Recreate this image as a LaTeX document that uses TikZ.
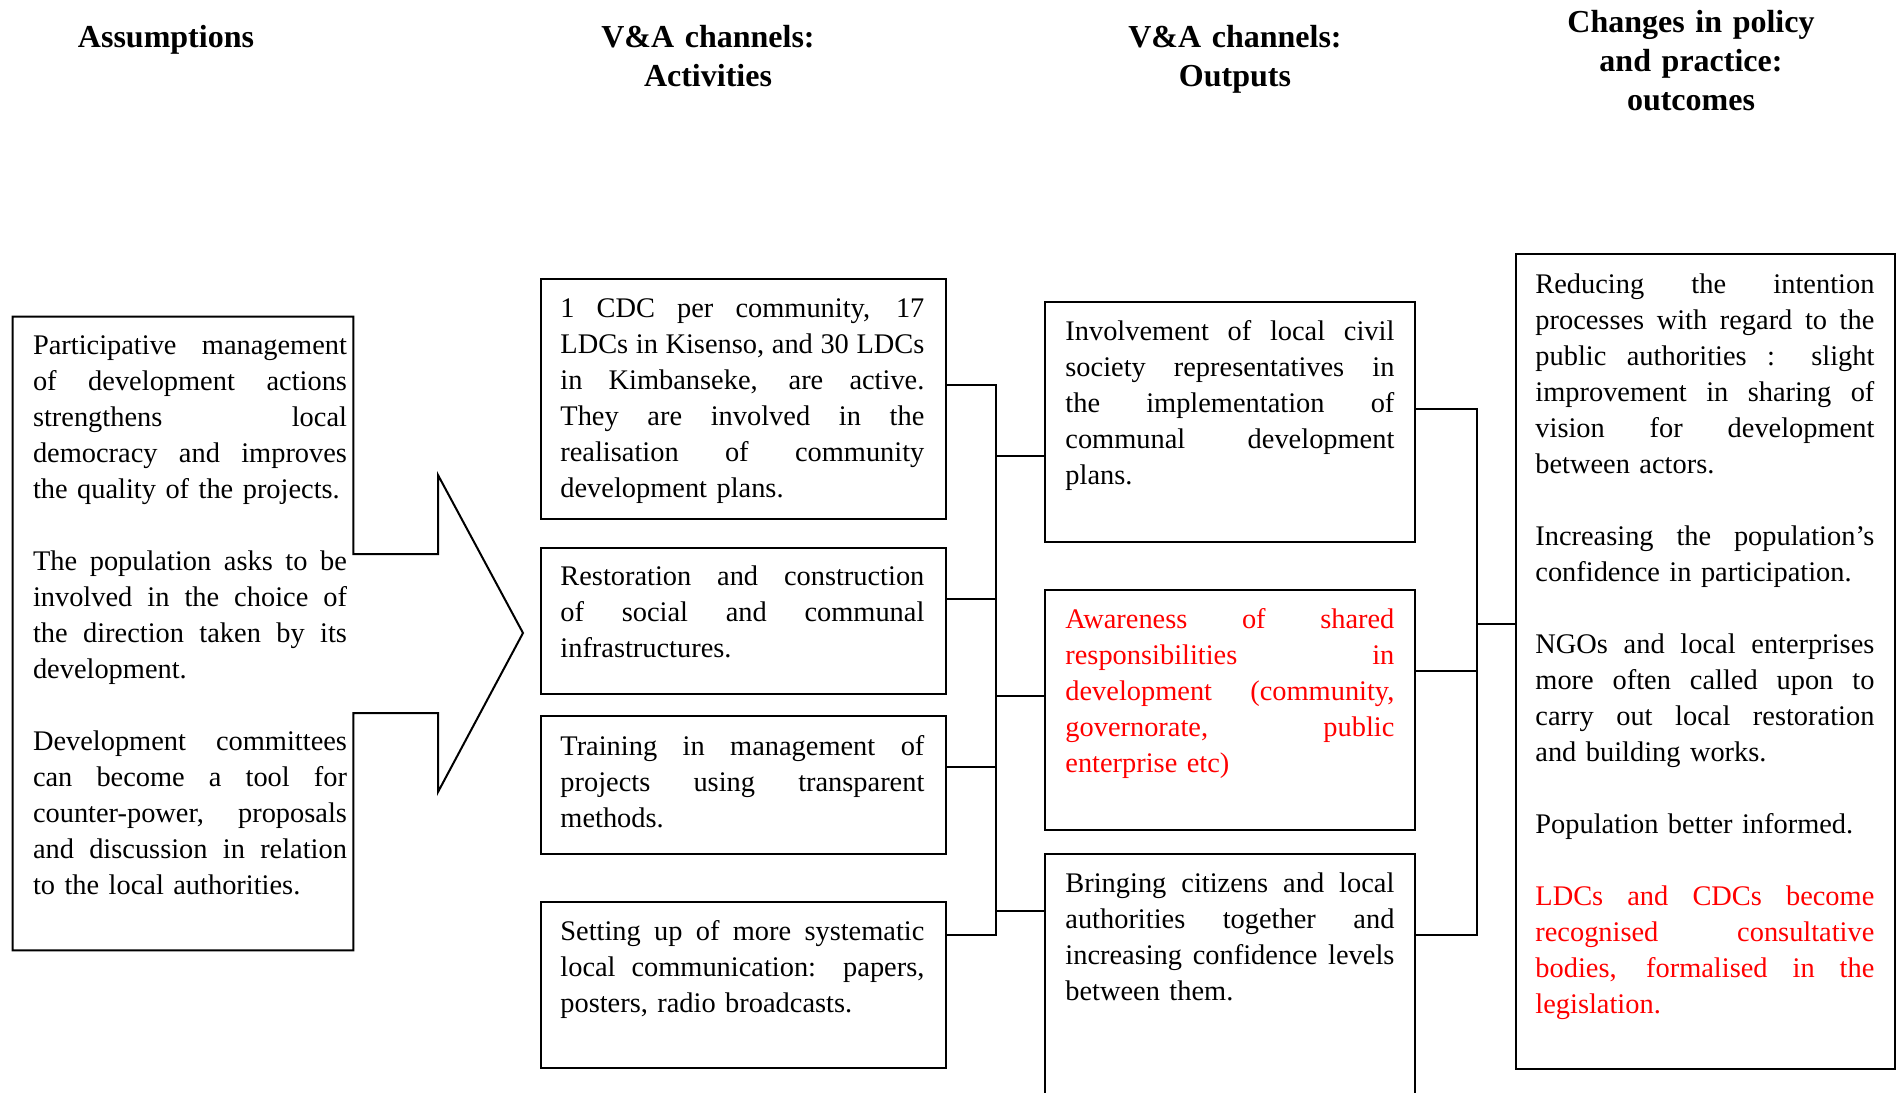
\documentclass[tikz,border=0pt]{standalone}
\usepackage{fontspec}
\setmainfont{Liberation Serif}
\usetikzlibrary{fit}
% one justified line, as wide as the current text block
\newlength{\jw}
\newcommand{\J}[1]{\makebox[\jw][s]{\spaceskip=0pt\xspaceskip=0pt\relax #1}}

\begin{document}
\begin{tikzpicture}[x=0.5pt,y=-0.5pt,
  box/.style={draw=black, line width=1pt, inner sep=0pt},
  hidden/.style={inner sep=0pt},
  txt/.style={anchor=base west, inner sep=0pt, align=left,
    font=\fontsize{14.2}{18}\selectfont},
  tw/.style={text width=#1, execute at begin node={\setlength{\jw}{#1}}},
  head/.style={anchor=base, inner sep=0pt, align=center, text width=200pt,
    font=\fontsize{16}{19.5}\selectfont\bfseries},
  wire/.style={line width=0.8pt, line join=miter},
  outline/.style={line width=1pt, line join=miter}]

\useasboundingbox (0,0) rectangle (1897,1093);
\clip (0,0) rectangle (1897,1093);

% column headings
\node[head] (h1) at (166,47.5) {Assumptions};
\node[head] (h2) at (708,47.5) {V\&A channels:\\Activities};
\node[head] (h3) at (1235,47.5) {V\&A channels:\\Outputs};
\node[head] (h4) at (1691,32) {Changes in policy\\and practice:\\outcomes};

% assumptions box merged with the big arrow
\node[hidden, fit={(13,317) (353,950)}] (asm) {};
\coordinate (s1) at (438,554);
\coordinate (hd1) at (438,475);
\coordinate (tip) at (523,633);
\coordinate (hd2) at (438,792);
\coordinate (s2) at (438,713);
\draw[outline] (asm.north west) -- (asm.north east) -- (asm.east |- s1) -- (s1)
  -- (hd1) -- (tip) -- (hd2) -- (s2) -- (asm.east |- s2) -- (asm.south east)
  -- (asm.south west) -- cycle;

\node[txt, tw=157pt] (asmtext) at ([shift={(20,38)}]asm.north west) {%
\J{Participative management}\\
\J{of development actions}\\
\J{strengthens local}\\
\J{democracy and improves}\\
the quality of the projects.\\[18pt]
\J{The population asks to be}\\
\J{involved in the choice of}\\
\J{the direction taken by its}\\
development.\\[18pt]
\J{Development committees}\\
\J{can become a tool for}\\
\J{counter-power, proposals}\\
\J{and discussion in relation}\\
to the local authorities.};

% activities
\node[box, fit={(541,279) (946,519)}] (a1) {};
\node[box, fit={(541,548) (946,694)}] (a2) {};
\node[box, fit={(541,716) (946,854)}] (a3) {};
\node[box, fit={(541,902) (946,1068)}] (a4) {};

\node[txt, tw=182pt] (a1text) at ([shift={(20,39)}]a1.north west) {%
\J{1 CDC per community, 17}\\
\J{LDCs in Kisenso, and 30 LDCs}\\
\J{in Kimbanseke, are active.}\\
\J{They are involved in the}\\
\J{realisation of community}\\
development plans.};
\node[txt, tw=182pt] (a2text) at ([shift={(20,38)}]a2.north west) {%
\J{Restoration and construction}\\
\J{of social and communal}\\
infrastructures.};
\node[txt, tw=182pt] (a3text) at ([shift={(20,40)}]a3.north west) {%
\J{Training in management of}\\
\J{projects using transparent}\\
methods.};
\node[txt, tw=182pt] (a4text) at ([shift={(20,39)}]a4.north west) {%
\J{Setting up of more systematic}\\
\J{local communication: papers,}\\
posters, radio broadcasts.};

% outputs
\node[box, fit={(1045,302) (1415,542)}] (o1) {};
\node[box, fit={(1045,590) (1415,830)}] (o2) {};
\node[box, fit={(1045,854) (1415,1120)}] (o3) {};

\node[txt, tw=164.5pt] (o1text) at ([shift={(21,39)}]o1.north west) {%
\J{Involvement of local civil}\\
\J{society representatives in}\\
\J{the implementation of}\\
\J{communal development}\\
plans.};
\node[txt, tw=164.5pt, text=red] (o2text) at ([shift={(21,39)}]o2.north west) {%
\J{Awareness of shared}\\
\J{responsibilities in}\\
\J{development (community,}\\
\J{governorate, public}\\
enterprise etc)};
\node[txt, tw=164.5pt] (o3text) at ([shift={(21,39)}]o3.north west) {%
\J{Bringing citizens and local}\\
\J{authorities together and}\\
\J{increasing confidence levels}\\
between them.};

% outcomes
\node[box, fit={(1516,254) (1895,1069)}] (outc) {};
\node[txt, tw=169.5pt] (outctext) at ([shift={(20,40)}]outc.north west) {%
\J{Reducing the intention}\\
\J{processes with regard to the}\\
\J{public authorities : slight}\\
\J{improvement in sharing of}\\
\J{vision for development}\\
between actors.\\[18pt]
\J{Increasing the population's}\\
confidence in participation.\\[18pt]
\J{NGOs and local enterprises}\\
\J{more often called upon to}\\
\J{carry out local restoration}\\
and building works.\\[18pt]
Population better informed.\\[18pt]
\color{red}\J{LDCs and CDCs become}\\
\J{recognised consultative}\\
\J{bodies, formalised in the}\\
legislation.};

% bus between activities and outputs
\coordinate (la1) at (996,385);
\coordinate (lo1) at (996,456);
\coordinate (la2) at (996,599);
\coordinate (lo2) at (996,696);
\coordinate (la3) at (996,767);
\coordinate (lo3) at (996,911);
\coordinate (la4) at (996,935);
\draw[wire] (a1.east |- la1) -- (la1) -- (la4) -- (a4.east |- la4);
\draw[wire] (a2.east |- la2) -- (la2);
\draw[wire] (a3.east |- la3) -- (la3);
\draw[wire] (lo1) -- (o1.west |- lo1);
\draw[wire] (lo2) -- (o2.west |- lo2);
\draw[wire] (lo3) -- (o3.west |- lo3);

% bus between outputs and outcomes
\coordinate (ro1) at (1477,409);
\coordinate (rc) at (1477,624);
\coordinate (ro2) at (1477,671);
\coordinate (ro3) at (1477,935);
\draw[wire] (o1.east |- ro1) -- (ro1) -- (ro3) -- (o3.east |- ro3);
\draw[wire] (o2.east |- ro2) -- (ro2);
\draw[wire] (rc) -- (outc.west |- rc);

\end{tikzpicture}
\end{document}
